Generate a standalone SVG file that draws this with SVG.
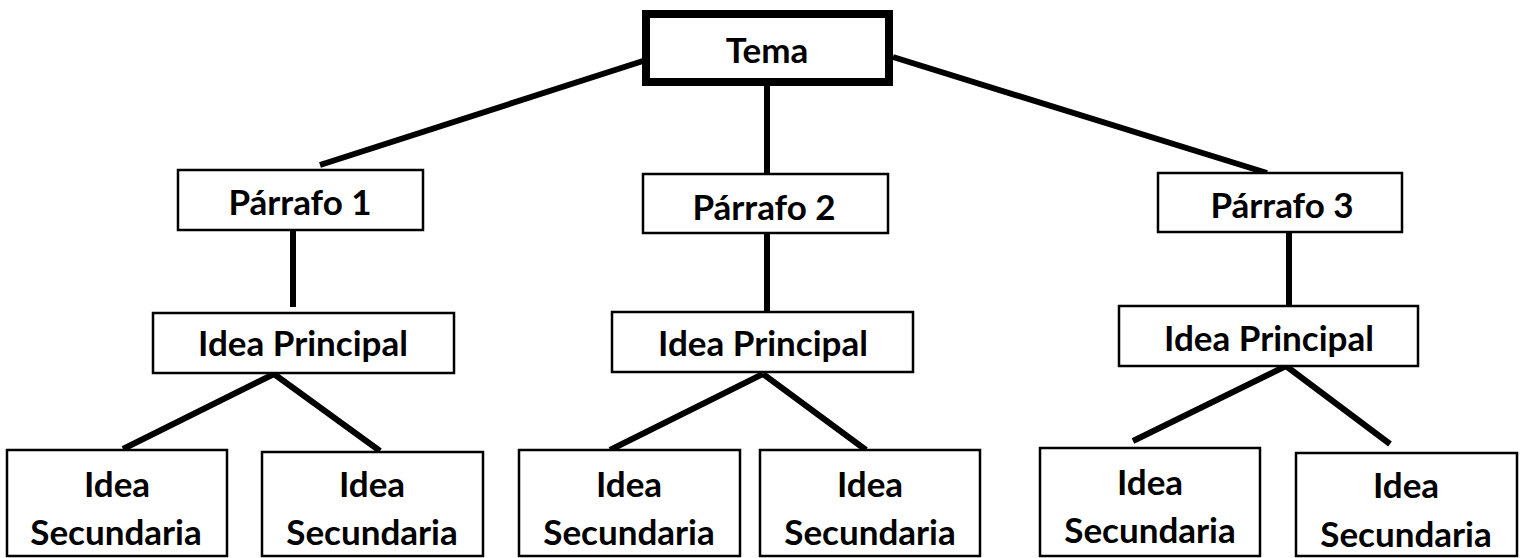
<svg xmlns="http://www.w3.org/2000/svg" width="1522" height="558" viewBox="0 0 1522 558">
<style>
  .box { fill: #ffffff; stroke: #000000; stroke-width: 2.5; }
  .main { fill: #ffffff; stroke: #000000; stroke-width: 8; }
  .lbl { font-family: Lato, "Liberation Sans", sans-serif; font-weight: bold; font-size: 35px; fill: #000000; text-anchor: middle; }
  .conn line { stroke: #000000; stroke-width: 6; stroke-linecap: butt; }
</style>
<rect width="1522" height="558" fill="#ffffff"/>
<g id="connectors" class="conn">
  <line x1="643" y1="61" x2="320" y2="165"/>
  <line x1="767" y1="86" x2="767" y2="174"/>
  <line x1="893" y1="57" x2="1267" y2="173"/>
  <line x1="293" y1="230" x2="293" y2="307"/>
  <line x1="767" y1="233" x2="767" y2="311"/>
  <line x1="1289" y1="232" x2="1289" y2="306"/>
  <line x1="274" y1="374" x2="123" y2="449"/>
  <line x1="274" y1="374" x2="380" y2="451"/>
  <line x1="763" y1="374" x2="610" y2="450"/>
  <line x1="763" y1="374" x2="866" y2="450"/>
  <line x1="1286" y1="366" x2="1133" y2="441"/>
  <line x1="1286" y1="366" x2="1390" y2="444"/>
</g>
<g id="tema">
  <rect class="main" x="646" y="14" width="243" height="68"/>
  <text class="lbl" x="767" y="63">Tema</text>
</g>
<g id="parrafo1">
  <rect class="box" x="178" y="170" width="245" height="60"/>
  <text class="lbl" x="300" y="215">Párrafo 1</text>
</g>
<g id="parrafo2">
  <rect class="box" x="643" y="174" width="245" height="59"/>
  <text class="lbl" x="764" y="220">Párrafo 2</text>
</g>
<g id="parrafo3">
  <rect class="box" x="1158" y="173" width="244" height="59"/>
  <text class="lbl" x="1282" y="218">Párrafo 3</text>
</g>
<g id="idea1">
  <rect class="box" x="153" y="313" width="301" height="60"/>
  <text class="lbl" x="303" y="356">Idea Principal</text>
</g>
<g id="idea2">
  <rect class="box" x="612" y="312" width="301" height="60"/>
  <text class="lbl" x="763" y="356">Idea Principal</text>
</g>
<g id="idea3">
  <rect class="box" x="1119" y="306" width="299" height="60"/>
  <text class="lbl" x="1269" y="351">Idea Principal</text>
</g>
<g id="sec1">
  <rect class="box" x="7" y="450" width="220" height="106"/>
  <text class="lbl" x="117" y="497">Idea</text>
  <text class="lbl" x="116" y="545">Secundaria</text>
</g>
<g id="sec2">
  <rect class="box" x="262" y="452" width="221" height="104"/>
  <text class="lbl" x="372" y="497">Idea</text>
  <text class="lbl" x="372" y="545">Secundaria</text>
</g>
<g id="sec3">
  <rect class="box" x="519" y="450" width="221" height="106"/>
  <text class="lbl" x="629" y="497">Idea</text>
  <text class="lbl" x="629" y="545">Secundaria</text>
</g>
<g id="sec4">
  <rect class="box" x="760" y="450" width="220" height="106"/>
  <text class="lbl" x="870" y="497">Idea</text>
  <text class="lbl" x="870" y="545">Secundaria</text>
</g>
<g id="sec5">
  <rect class="box" x="1040" y="448" width="220" height="108"/>
  <text class="lbl" x="1150" y="495">Idea</text>
  <text class="lbl" x="1150" y="543">Secundaria</text>
</g>
<g id="sec6">
  <rect class="box" x="1296" y="453" width="221" height="103"/>
  <text class="lbl" x="1406" y="498">Idea</text>
  <text class="lbl" x="1406" y="547">Secundaria</text>
</g>
</svg>
